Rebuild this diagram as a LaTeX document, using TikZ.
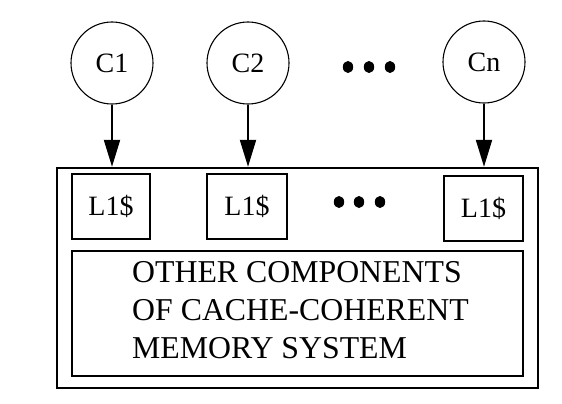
\documentclass[tikz,border=0pt]{standalone}
\usepackage{fontspec}
\setmainfont{Liberation Serif}
\usetikzlibrary{arrows.meta}
\begin{document}
\begin{tikzpicture}[x=1pt,y=-1pt,
  core/.style={circle,draw,line width=1.1pt,minimum size=82pt,inner sep=0pt,font=\fontsize{28}{30}\selectfont},
  cachebox/.style={rectangle,draw,line width=2pt,minimum width=79pt,minimum height=65pt,inner sep=0pt,font=\fontsize{28}{30}\selectfont},
  bigbox/.style={rectangle,draw,line width=2.4pt,inner sep=0pt},
  arr/.style={line width=2pt,-{Triangle[length=27pt,width=16pt]}},
  txt/.style={anchor=base west,inner sep=0pt,font=\fontsize{31.8}{38}\selectfont},
  dot/.style={fill=black,draw=none}]
\useasboundingbox (0,0) rectangle (562,404);
\node[bigbox,minimum width=481pt,minimum height=220pt] (outer) at (297.5,278) {};
\node[bigbox,line width=2pt,minimum width=451pt,minimum height=125pt] (inner) at (297.5,313.5) {};
\node[core] (c1) at (112,63) {C1};
\node[core] (c2) at (248,63) {C2};
\node[core] (cn) at (484,62) {Cn};
\node[cachebox,minimum width=78pt] (l1) at (111,206.5) {L1\$};
\node[cachebox,minimum width=80pt] (l2) at (247,206.5) {L1\$};
\node[cachebox] (ln) at (483.5,208.5) {L1\$};
\draw[arr] (c1.south) -- (c1.south |- outer.north);
\draw[arr] (c2.south) -- (c2.south |- outer.north);
\draw[arr] (cn.south) -- (cn.south |- outer.north);
\foreach \x in {348,369,390} \fill[dot] (\x,67) ellipse (5.2pt and 6pt);
\foreach \x in {339,359,380} \fill[dot] (\x,202) ellipse (5.2pt and 6pt);
\node[txt] (t1) at (132,282) {OTHER COMPONENTS};
\node[txt] (t2) at (132,320) {OF CACHE-COHERENT};
\node[txt] (t3) at (132,358) {MEMORY SYSTEM};
\end{tikzpicture}
\end{document}
